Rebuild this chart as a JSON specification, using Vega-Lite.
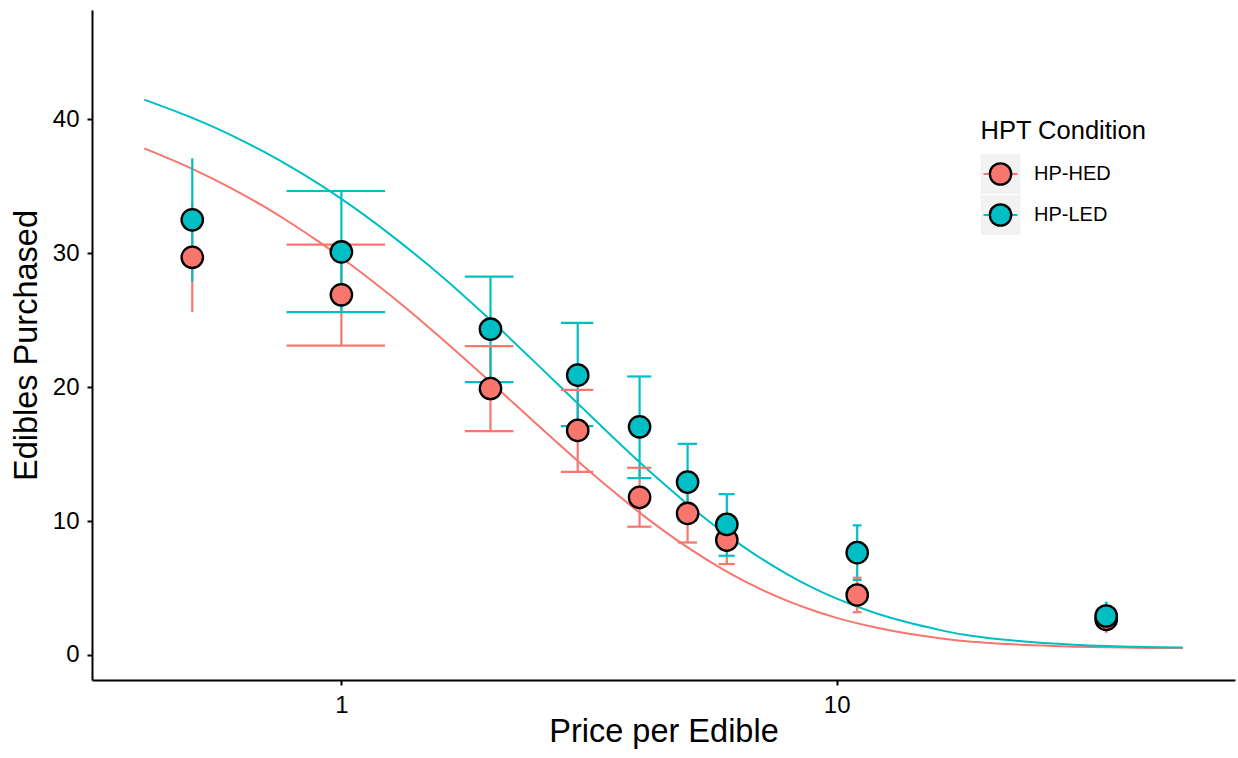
{
  "$schema": "https://vega.github.io/schema/vega-lite/v6.json",
  "width": 1143,
  "height": 670,
  "autosize": {"type": "none"},
  "padding": {"left": 92, "top": 10, "right": 3, "bottom": 78},
  "background": "white",
  "config": {
    "view": {"stroke": null},
    "font": "Liberation Sans",
    "axis": {
      "grid": false,
      "domainColor": "black",
      "domainWidth": 2,
      "tickColor": "black",
      "tickWidth": 2,
      "tickSize": 5,
      "labelColor": "black",
      "labelFontSize": 24,
      "labelFont": "Liberation Sans",
      "titleFont": "Liberation Sans",
      "titleFontSize": 32.5,
      "titleFontWeight": "normal",
      "titleColor": "black"
    },
    "legend": {
      "labelFont": "Liberation Sans",
      "titleFont": "Liberation Sans"
    }
  },
  "datasets": {
    "points": [
      {"C": 0.5, "Q": 29.7, "lo": 25.6, "hi": 33.8, "Condition": "HP-HED"},
      {"C": 1, "Q": 26.9, "lo": 23.1, "hi": 30.65, "xlo": 0.775, "xhi": 1.225, "Condition": "HP-HED"},
      {"C": 2, "Q": 19.9, "lo": 16.72, "hi": 23.06, "xlo": 1.775, "xhi": 2.225, "Condition": "HP-HED"},
      {"C": 3, "Q": 16.77, "lo": 13.68, "hi": 19.8, "xlo": 2.775, "xhi": 3.225, "Condition": "HP-HED"},
      {"C": 4, "Q": 11.77, "lo": 9.58, "hi": 13.98, "xlo": 3.775, "xhi": 4.225, "Condition": "HP-HED"},
      {"C": 5, "Q": 10.57, "lo": 8.4, "hi": 12.74, "xlo": 4.775, "xhi": 5.225, "Condition": "HP-HED"},
      {"C": 6, "Q": 8.58, "lo": 6.79, "hi": 10.37, "xlo": 5.775, "xhi": 6.225, "Condition": "HP-HED"},
      {"C": 11, "Q": 4.48, "lo": 3.19, "hi": 5.77, "xlo": 10.775, "xhi": 11.225, "Condition": "HP-HED"},
      {"C": 35, "Q": 2.65, "lo": 1.74, "hi": 3.5, "xlo": 34.775, "xhi": 35.225, "Condition": "HP-HED"},
      {"C": 0.5, "Q": 32.5, "lo": 27.9, "hi": 37.1, "Condition": "HP-LED"},
      {"C": 1, "Q": 30.1, "lo": 25.6, "hi": 34.65, "xlo": 0.775, "xhi": 1.225, "Condition": "HP-LED"},
      {"C": 2, "Q": 24.33, "lo": 20.37, "hi": 28.26, "xlo": 1.775, "xhi": 2.225, "Condition": "HP-LED"},
      {"C": 3, "Q": 20.9, "lo": 17.09, "hi": 24.8, "xlo": 2.775, "xhi": 3.225, "Condition": "HP-LED"},
      {"C": 4, "Q": 17.04, "lo": 13.21, "hi": 20.8, "xlo": 3.775, "xhi": 4.225, "Condition": "HP-LED"},
      {"C": 5, "Q": 12.91, "lo": 10.05, "hi": 15.77, "xlo": 4.775, "xhi": 5.225, "Condition": "HP-LED"},
      {"C": 6, "Q": 9.75, "lo": 7.41, "hi": 12.01, "xlo": 5.775, "xhi": 6.225, "Condition": "HP-LED"},
      {"C": 11, "Q": 7.64, "lo": 5.6, "hi": 9.68, "xlo": 10.775, "xhi": 11.225, "Condition": "HP-LED"},
      {"C": 35, "Q": 2.91, "lo": 1.9, "hi": 3.9, "xlo": 34.775, "xhi": 35.225, "Condition": "HP-LED"}
    ],
    "curves": [
      {"C": 0.4, "Q": 37.84, "Condition": "HP-HED"},
      {"C": 0.5, "Q": 36.31, "Condition": "HP-HED"},
      {"C": 0.6, "Q": 34.85, "Condition": "HP-HED"},
      {"C": 0.7, "Q": 33.46, "Condition": "HP-HED"},
      {"C": 0.8, "Q": 32.13, "Condition": "HP-HED"},
      {"C": 0.9, "Q": 30.87, "Condition": "HP-HED"},
      {"C": 1, "Q": 29.67, "Condition": "HP-HED"},
      {"C": 1.25, "Q": 26.92, "Condition": "HP-HED"},
      {"C": 1.5, "Q": 24.48, "Condition": "HP-HED"},
      {"C": 1.75, "Q": 22.31, "Condition": "HP-HED"},
      {"C": 2, "Q": 20.38, "Condition": "HP-HED"},
      {"C": 2.5, "Q": 17.12, "Condition": "HP-HED"},
      {"C": 3, "Q": 14.49, "Condition": "HP-HED"},
      {"C": 3.5, "Q": 12.37, "Condition": "HP-HED"},
      {"C": 4, "Q": 10.63, "Condition": "HP-HED"},
      {"C": 4.5, "Q": 9.21, "Condition": "HP-HED"},
      {"C": 5, "Q": 8.03, "Condition": "HP-HED"},
      {"C": 6, "Q": 6.22, "Condition": "HP-HED"},
      {"C": 7, "Q": 4.93, "Condition": "HP-HED"},
      {"C": 8, "Q": 4.0, "Condition": "HP-HED"},
      {"C": 9, "Q": 3.3, "Condition": "HP-HED"},
      {"C": 10, "Q": 2.77, "Condition": "HP-HED"},
      {"C": 12, "Q": 2.05, "Condition": "HP-HED"},
      {"C": 14, "Q": 1.58, "Condition": "HP-HED"},
      {"C": 16, "Q": 1.27, "Condition": "HP-HED"},
      {"C": 18, "Q": 1.05, "Condition": "HP-HED"},
      {"C": 20, "Q": 0.92, "Condition": "HP-HED"},
      {"C": 25, "Q": 0.72, "Condition": "HP-HED"},
      {"C": 30, "Q": 0.62, "Condition": "HP-HED"},
      {"C": 35, "Q": 0.57, "Condition": "HP-HED"},
      {"C": 40, "Q": 0.54, "Condition": "HP-HED"},
      {"C": 45, "Q": 0.52, "Condition": "HP-HED"},
      {"C": 50, "Q": 0.51, "Condition": "HP-HED"},
      {"C": 0.4, "Q": 41.48, "Condition": "HP-LED"},
      {"C": 0.5, "Q": 40.11, "Condition": "HP-LED"},
      {"C": 0.6, "Q": 38.81, "Condition": "HP-LED"},
      {"C": 0.7, "Q": 37.55, "Condition": "HP-LED"},
      {"C": 0.8, "Q": 36.34, "Condition": "HP-LED"},
      {"C": 0.9, "Q": 35.18, "Condition": "HP-LED"},
      {"C": 1, "Q": 34.06, "Condition": "HP-LED"},
      {"C": 1.25, "Q": 31.45, "Condition": "HP-LED"},
      {"C": 1.5, "Q": 29.1, "Condition": "HP-LED"},
      {"C": 1.75, "Q": 26.96, "Condition": "HP-LED"},
      {"C": 2, "Q": 25.01, "Condition": "HP-LED"},
      {"C": 2.5, "Q": 21.61, "Condition": "HP-LED"},
      {"C": 3, "Q": 18.78, "Condition": "HP-LED"},
      {"C": 3.5, "Q": 16.41, "Condition": "HP-LED"},
      {"C": 4, "Q": 14.4, "Condition": "HP-LED"},
      {"C": 4.5, "Q": 12.71, "Condition": "HP-LED"},
      {"C": 5, "Q": 11.26, "Condition": "HP-LED"},
      {"C": 6, "Q": 8.97, "Condition": "HP-LED"},
      {"C": 7, "Q": 7.26, "Condition": "HP-LED"},
      {"C": 8, "Q": 5.97, "Condition": "HP-LED"},
      {"C": 9, "Q": 4.98, "Condition": "HP-LED"},
      {"C": 10, "Q": 4.21, "Condition": "HP-LED"},
      {"C": 12, "Q": 3.12, "Condition": "HP-LED"},
      {"C": 14, "Q": 2.4, "Condition": "HP-LED"},
      {"C": 16, "Q": 1.9, "Condition": "HP-LED"},
      {"C": 18, "Q": 1.52, "Condition": "HP-LED"},
      {"C": 20, "Q": 1.28, "Condition": "HP-LED"},
      {"C": 25, "Q": 0.95, "Condition": "HP-LED"},
      {"C": 30, "Q": 0.77, "Condition": "HP-LED"},
      {"C": 35, "Q": 0.67, "Condition": "HP-LED"},
      {"C": 40, "Q": 0.61, "Condition": "HP-LED"},
      {"C": 45, "Q": 0.57, "Condition": "HP-LED"},
      {"C": 50, "Q": 0.55, "Condition": "HP-LED"}
    ],
    "keyBg": [{"keyBg": "HP-HED"}, {"keyBg": "HP-LED"}],
    "keyLine": [{"keyLine": "HP-HED"}, {"keyLine": "HP-LED"}]
  },
  "layer": [
    {
      "data": {"name": "keyBg"},
      "mark": {"type": "point", "filled": true, "color": "#F2F2F2", "opacity": 0},
      "encoding": {
        "shape": {
          "field": "keyBg",
          "type": "nominal",
          "scale": {"range": ["square", "square"]},
          "legend": {
            "orient": "none",
            "legendX": 888.5,
            "legendY": 108.5,
            "title": "HPT Condition",
            "titleFontSize": 25.5,
            "titleFontWeight": "normal",
            "titleColor": "black",
            "titlePadding": 10,
            "labelFontSize": 20,
            "labelColor": "black",
            "labelOffset": 13.5,
            "symbolType": "square",
            "symbolSize": 1600,
            "symbolStrokeWidth": 0,
            "symbolOpacity": 1,
            "clipHeight": 40,
            "rowPadding": 1,
            "padding": 0
          }
        }
      }
    },
    {
      "data": {"name": "keyLine"},
      "mark": {"type": "point", "opacity": 0},
      "encoding": {
        "stroke": {
          "field": "keyLine",
          "type": "nominal",
          "scale": {"range": ["#F8766D", "#00BFC4"]},
          "legend": {
            "orient": "none",
            "legendX": 890.5,
            "legendY": 144,
            "title": null,
            "labelExpr": "''",
            "symbolType": "stroke",
            "symbolSize": 1156,
            "symbolStrokeWidth": 2,
            "symbolOpacity": 1,
            "clipHeight": 40,
            "rowPadding": 1,
            "padding": 0
          }
        }
      }
    },
    {
      "data": {"name": "curves"},
      "mark": {"type": "line", "strokeWidth": 2, "interpolate": "monotone"},
      "encoding": {
        "x": {"field": "C", "type": "quantitative", "scale": {"type": "log", "domain": [0.3137, 63.7], "nice": false},
              "axis": {"values": [1, 10], "format": "d", "title": "Price per Edible", "labelPadding": 8, "labelFlush": false, "titleBaseline": "alphabetic", "titleY": 61}},
        "y": {"field": "Q", "type": "quantitative", "scale": {"domain": [-1.87, 48.17], "nice": false, "zero": false},
              "axis": {"values": [0, 10, 20, 30, 40], "title": "Edibles Purchased", "labelPadding": 8, "titleBaseline": "alphabetic", "titleAngle": -90, "titleX": -56, "titleY": 335, "titleAlign": "center"}},
        "color": {"field": "Condition", "type": "nominal", "scale": {"domain": ["HP-HED", "HP-LED"], "range": ["#F8766D", "#00BFC4"]}, "legend": null}
      }
    },
    {
      "data": {"name": "points"},
      "mark": {"type": "rule", "strokeWidth": 2.2},
      "encoding": {
        "x": {"field": "C", "type": "quantitative", "scale": {"type": "log", "domain": [0.3137, 63.7], "nice": false}},
        "y": {"field": "lo", "type": "quantitative", "scale": {"domain": [-1.87, 48.17], "nice": false, "zero": false}},
        "y2": {"field": "hi"},
        "color": {"field": "Condition", "type": "nominal", "scale": {"domain": ["HP-HED", "HP-LED"], "range": ["#F8766D", "#00BFC4"]}, "legend": null}
      }
    },
    {
      "data": {"name": "points"},
      "mark": {"type": "rule", "strokeWidth": 2.2},
      "encoding": {
        "x": {"field": "xlo", "type": "quantitative", "scale": {"type": "log", "domain": [0.3137, 63.7], "nice": false}},
        "x2": {"field": "xhi"},
        "y": {"field": "hi", "type": "quantitative", "scale": {"domain": [-1.87, 48.17], "nice": false, "zero": false}},
        "color": {"field": "Condition", "type": "nominal", "scale": {"domain": ["HP-HED", "HP-LED"], "range": ["#F8766D", "#00BFC4"]}, "legend": null}
      }
    },
    {
      "data": {"name": "points"},
      "mark": {"type": "rule", "strokeWidth": 2.2},
      "encoding": {
        "x": {"field": "xlo", "type": "quantitative", "scale": {"type": "log", "domain": [0.3137, 63.7], "nice": false}},
        "x2": {"field": "xhi"},
        "y": {"field": "lo", "type": "quantitative", "scale": {"domain": [-1.87, 48.17], "nice": false, "zero": false}},
        "color": {"field": "Condition", "type": "nominal", "scale": {"domain": ["HP-HED", "HP-LED"], "range": ["#F8766D", "#00BFC4"]}, "legend": null}
      }
    },
    {
      "data": {"name": "points"},
      "mark": {"type": "circle", "size": 458, "stroke": "black", "strokeWidth": 2.3, "opacity": 1},
      "encoding": {
        "x": {"field": "C", "type": "quantitative", "scale": {"type": "log", "domain": [0.3137, 63.7], "nice": false}},
        "y": {"field": "Q", "type": "quantitative", "scale": {"domain": [-1.87, 48.17], "nice": false, "zero": false}},
        "fill": {
          "field": "Condition",
          "type": "nominal",
          "scale": {"range": ["#F8766D", "#00BFC4"]},
          "legend": {
            "orient": "none",
            "legendX": 896.5,
            "legendY": 144,
            "title": null,
            "labelExpr": "''",
            "symbolType": "circle",
            "symbolSize": 458,
            "symbolStrokeWidth": 2.3,
            "symbolStrokeColor": "black",
            "symbolOpacity": 1,
            "clipHeight": 40,
            "rowPadding": 1,
            "padding": 0
          }
        }
      }
    }
  ]
}
